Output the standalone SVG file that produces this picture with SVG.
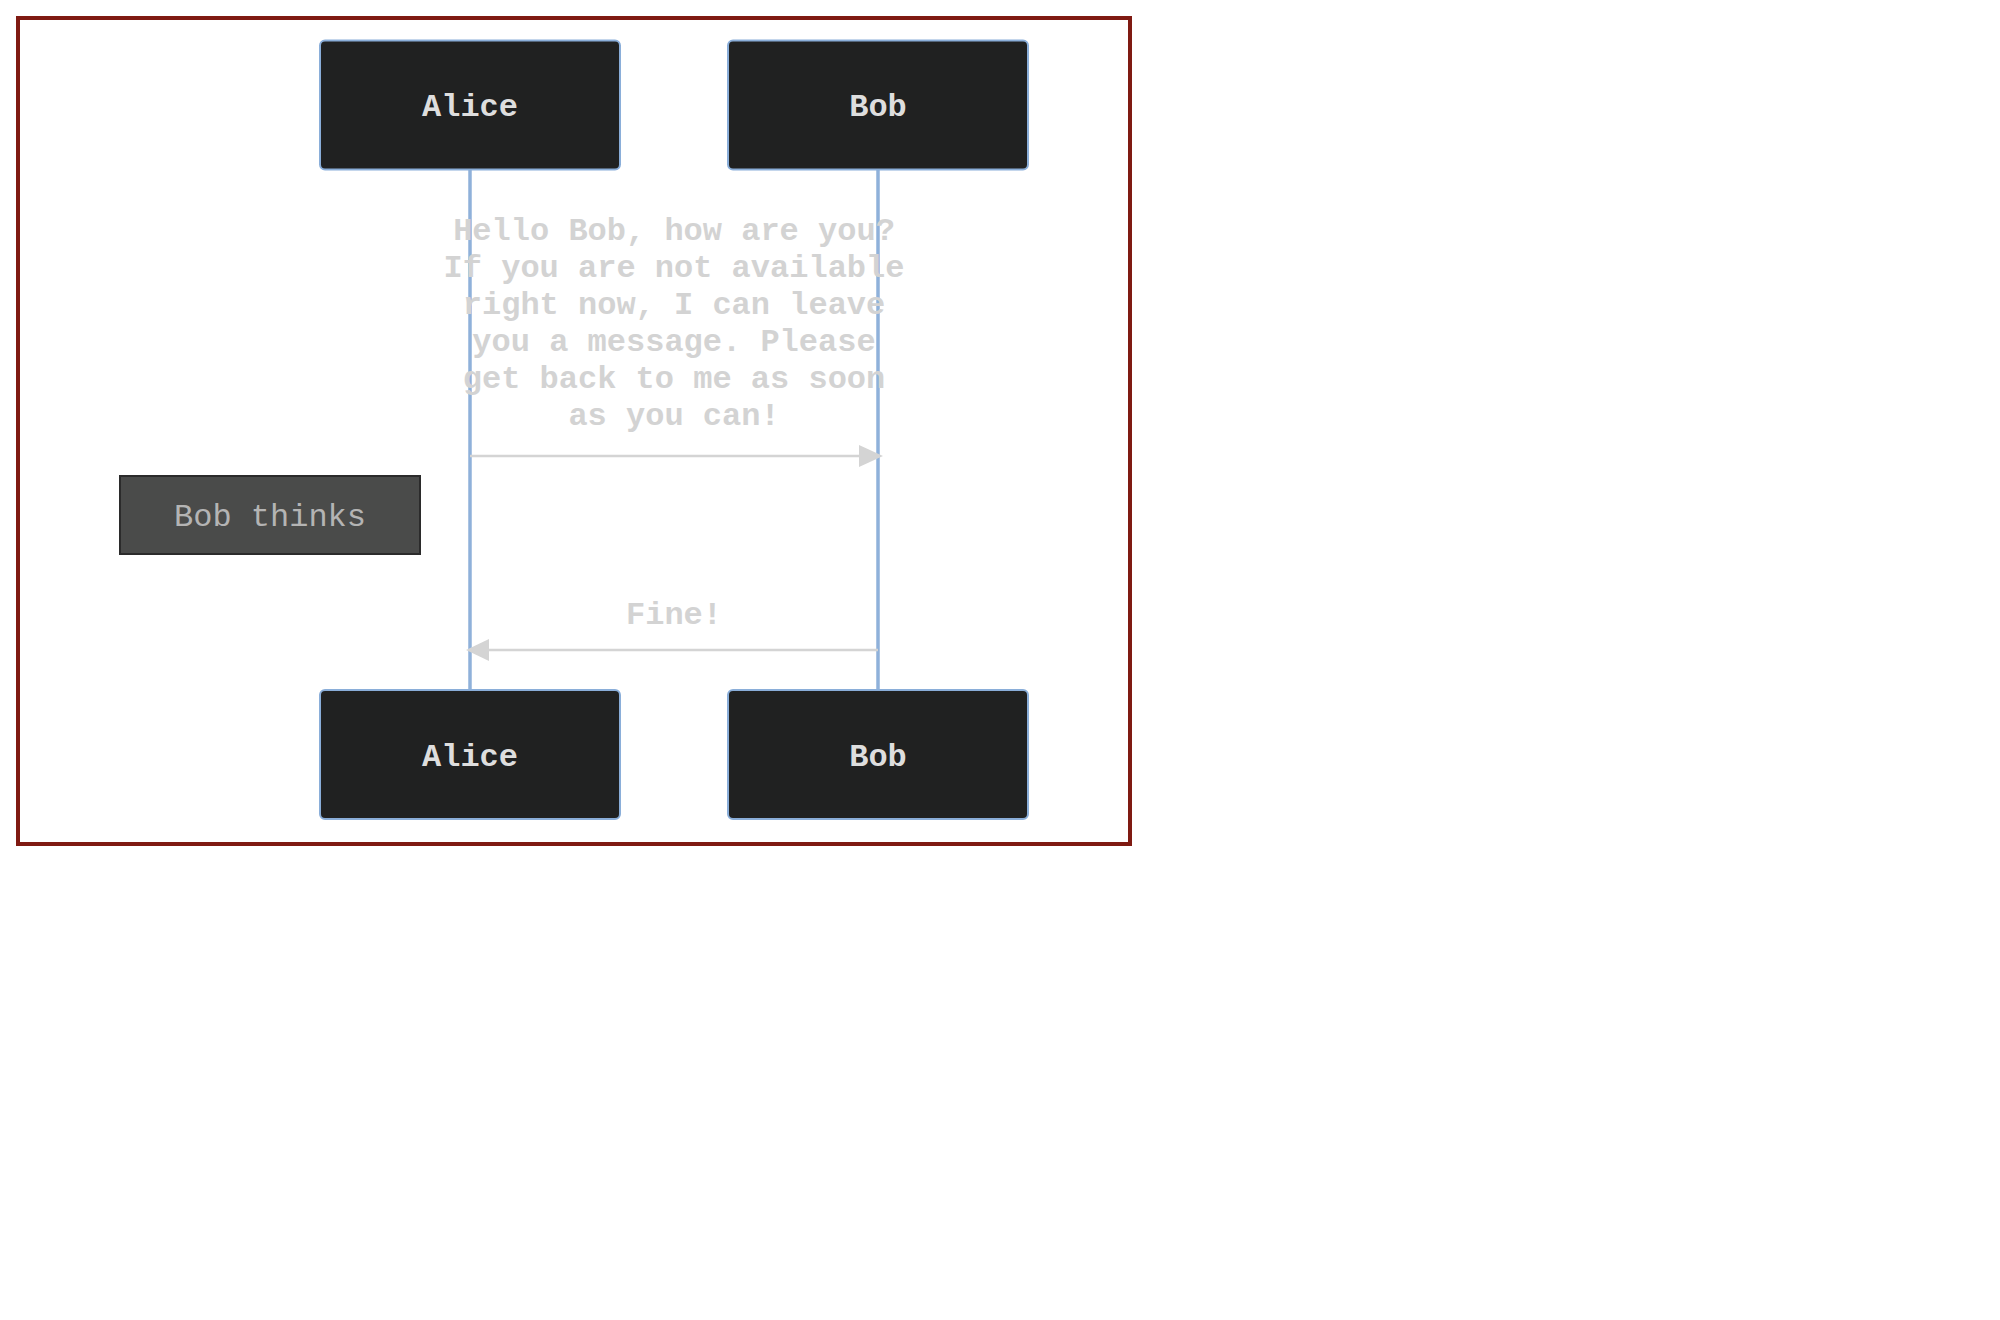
<svg xmlns="http://www.w3.org/2000/svg" width="2000" height="1320" viewBox="0 0 2000 1320">
<style>
.actor rect{fill:#202121;stroke:#8aaed9;stroke-width:2}
.actor text{font-family:"Liberation Mono","Courier New",monospace;font-size:32px;font-weight:bold;fill:#dedede;text-anchor:middle}
.life{stroke:#8fb1da;stroke-width:3.5}
.msg{stroke:#d4d4d4;stroke-width:2.5;fill:none}
.head{fill:#d4d4d4}
.mtext{font-family:"Liberation Mono","Courier New",monospace;font-size:32px;font-weight:bold;fill:#d3d3d3;text-anchor:middle}
.note rect{fill:#4a4b4a;stroke:#2b2b2b;stroke-width:2}
.note text{font-family:"Liberation Mono","Courier New",monospace;font-size:32px;fill:#b4b4b4;text-anchor:middle}
</style>
<rect width="2000" height="1320" fill="#ffffff"/>
<rect id="frame" x="18" y="18" width="1112" height="826" fill="none" stroke="#7f1a12" stroke-width="4"/>
<g id="lifelines">
<line class="life" x1="470" y1="170" x2="470" y2="689"/>
<line class="life" x1="878" y1="170" x2="878" y2="689"/>
</g>
<g id="actor-alice-top" class="actor">
<rect x="320" y="40.5" width="300" height="129" rx="5"/>
<text x="470" y="116">Alice</text>
</g>
<g id="actor-bob-top" class="actor">
<rect x="728" y="40.5" width="300" height="129" rx="5"/>
<text x="878" y="116">Bob</text>
</g>
<g id="actor-alice-bottom" class="actor">
<rect x="320" y="690" width="300" height="129" rx="5"/>
<text x="470" y="766">Alice</text>
</g>
<g id="actor-bob-bottom" class="actor">
<rect x="728" y="690" width="300" height="129" rx="5"/>
<text x="878" y="766">Bob</text>
</g>
<g id="note-bob-thinks" class="note">
<rect x="120" y="476" width="300" height="78"/>
<text x="270" y="526">Bob thinks</text>
</g>
<g id="connectors">
<line class="msg" x1="470" y1="456" x2="860" y2="456"/>
<polygon class="head" points="883,456 859,445 859,467"/>
<line class="msg" x1="878" y1="650" x2="488" y2="650"/>
<polygon class="head" points="466,650 489,639 489,661"/>
</g>
<g id="labels">
<text class="mtext" x="674" y="240">Hello Bob, how are you?</text>
<text class="mtext" x="674" y="277">If you are not available</text>
<text class="mtext" x="674" y="314">right now, I can leave</text>
<text class="mtext" x="674" y="351">you a message. Please</text>
<text class="mtext" x="674" y="388">get back to me as soon</text>
<text class="mtext" x="674" y="425">as you can!</text>
<text class="mtext" x="674" y="624">Fine!</text>
</g>
</svg>
